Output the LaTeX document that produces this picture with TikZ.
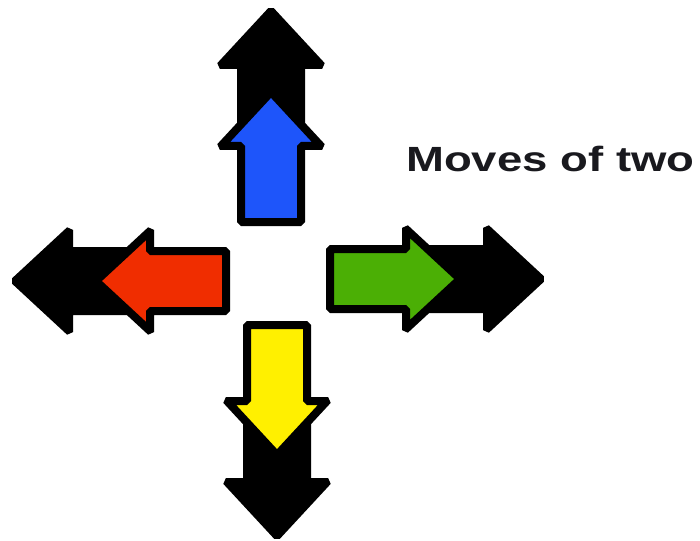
\documentclass[tikz,border=0pt]{standalone}
\usepackage{fontspec}
\setmainfont{Liberation Sans}
\definecolor{arrblue}{RGB}{30,85,250}
\definecolor{arrred}{RGB}{240,45,0}
\definecolor{arrgreen}{RGB}{75,175,5}
\definecolor{arryellow}{RGB}{255,240,0}
\definecolor{txtdark}{RGB}{25,25,30}
\tikzset{
  pics/bigarrow/.style={code={
    \filldraw[line width=8pt, draw=black, fill=#1, line join=miter, rounded corners=1.5pt]
      (-130,-30) -- (-54,-30) -- (-54,-50) -- (0,0) -- (-54,50) -- (-54,30) -- (-130,30) -- cycle;
  }},
  movelabel/.style={anchor=base west, inner sep=0pt, font=\fontsize{35}{40}\selectfont\bfseries, text=txtdark, xscale=1.3}
}
\begin{document}
\begin{tikzpicture}[x=1pt,y=-1pt]
\useasboundingbox (0,0) rectangle (700,540);
\clip (0,0) rectangle (700,540);
% black (two-step) arrows
\pic[shift={(271,11)},rotate=90] {bigarrow=black};
\pic[shift={(15,281)},rotate=180] {bigarrow=black};
\pic[shift={(541,279)},rotate=0] {bigarrow=black};
\pic[shift={(277,536)},rotate=-90] {bigarrow=black};
% coloured (one-step) arrows
\pic[shift={(271,92)},rotate=90] {bigarrow=arrblue};
\pic[shift={(96,281)},rotate=180] {bigarrow=arrred};
\pic[shift={(460,279)},rotate=0] {bigarrow=arrgreen};
\pic[shift={(277,455)},rotate=-90] {bigarrow=arryellow};
\node[movelabel] (lbl) at (406,171) {Moves of two};
\end{tikzpicture}
\end{document}
